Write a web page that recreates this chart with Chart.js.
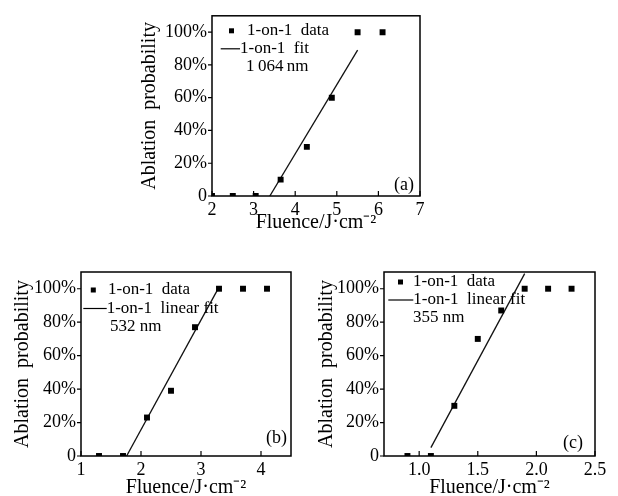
<!DOCTYPE html>
<html lang="en">
<head>
<meta charset="UTF-8">
<title>Ablation probability</title>
<script src="https://cdn.jsdelivr.net/npm/chart.js@4.4.1/dist/chart.umd.min.js"></script>
<style>
  html, body { margin: 0; padding: 0; background: #fff; overflow: hidden; }
  body { width: 618px; height: 496px; position: relative; }
  canvas { position: absolute; }
</style>
</head>
<body>
<canvas id="chartA" width="300" height="245" style="left:130px;top:0px"></canvas>
<canvas id="chartB" width="305" height="250" style="left:0px;top:255px"></canvas>
<canvas id="chartC" width="313" height="250" style="left:305px;top:255px"></canvas>
<script>
// (a) 1064 nm
const fluenceA = [2.0, 2.5, 3.05, 3.65, 4.28, 4.88, 5.5, 6.1]
const probA = [0, 0, 0, 10, 30, 60, 100, 100]
const fitXA = [3.39, 5.5]
const fitYA = [0, 89]
const xTicksA = [2, 3, 4, 5, 6, 7]

// (b) 532 nm
const fluenceB = [1.3, 1.7, 2.1, 2.5, 2.9, 3.3, 3.7, 4.1]
const probB = [0, 0, 23, 39, 77, 100, 100, 100]
const fitXB = [1.76, 3.27]
const fitYB = [0, 99]
const xTicksB = [1, 2, 3, 4]

// (c) 355 nm
const fluenceC = [0.9, 1.1, 1.3, 1.5, 1.7, 1.9, 2.1, 2.3]
const probC = [0, 0, 30, 70, 87, 100, 100, 100]
const fitXC = [1.1, 1.9]
const fitYC = [5, 109]
const xTicksC = [1.0, 1.5, 2.0, 2.5]

const yTicks = [0, 20, 40, 60, 80, 100]

Chart.defaults.font.family = "'Liberation Serif', serif"
Chart.defaults.color = '#000'

// box round the plot, inward x ticks, outward y ticks, legend text and panel letter
const framePlugin = {
    id: 'frame',
    afterDraw(chart, args, o) {
        const { ctx, chartArea: a, scales: { x, y } } = chart
        ctx.save()
        ctx.strokeStyle = '#000'
        ctx.lineWidth = 1.5
        ctx.strokeRect(a.left, a.top, a.width, a.height)
        ctx.lineWidth = 1.2
        ctx.beginPath()
        x.ticks.forEach(t => {
            const px = x.getPixelForValue(t.value)
            ctx.moveTo(px, a.bottom); ctx.lineTo(px, a.bottom - 5)
        })
        y.ticks.forEach(t => {
            const py = y.getPixelForValue(t.value)
            ctx.moveTo(a.left - 4, py); ctx.lineTo(a.left, py)
        })
        ctx.stroke()

        // legend
        const L = o.legend
        ctx.fillStyle = '#000'
        ctx.fillRect(a.left + L.mx - 2.5, a.top + L.rows[0] - 2.5, 5, 5)
        ctx.beginPath()
        ctx.lineWidth = 1.2
        ctx.moveTo(a.left + L.lx1, a.top + L.rows[1])
        ctx.lineTo(a.left + L.lx2, a.top + L.rows[1])
        ctx.stroke()
        ctx.font = "17px 'Liberation Serif'"
        ctx.textBaseline = 'middle'
        ctx.textAlign = 'left'
        L.texts.forEach((txt, i) => {
            ctx.fillText(txt, a.left + L.tx[i], a.top + L.rows[i])
        })

        // panel letter
        ctx.font = "18px 'Liberation Serif'"
        ctx.textAlign = 'right'
        ctx.fillText(o.panel.text, a.right - o.panel.dx, a.bottom - o.panel.dy)
        ctx.restore()
    }
}

function makeChart(id, d) {
    const ctx = document.getElementById(id).getContext('2d')
    return new Chart(ctx, {
        type: 'scatter',
        data: {
            datasets: [{
                data: d.xs.map((v, i) => ({ x: v, y: d.ys[i] })),
                pointStyle: 'rect',
                pointRadius: 4.2,
                backgroundColor: '#000',
                borderColor: '#000',
                borderWidth: 0,
                clip: 0
            }, {
                data: d.fitX.map((v, i) => ({ x: v, y: d.fitY[i] })),
                showLine: true,
                pointRadius: 0,
                borderColor: '#111',
                borderWidth: 1.3,
                clip: 0
            }]
        },
        options: {
            responsive: false,
            animation: false,
            layout: { padding: { top: d.padTop, right: d.padRight, left: 0, bottom: 0 } },
            plugins: {
                legend: { display: false },
                tooltip: { enabled: false },
                frame: { legend: d.legend, panel: d.panel }
            },
            scales: {
                x: {
                    type: 'linear',
                    min: d.xMin,
                    max: d.xMax,
                    afterBuildTicks: s => { s.ticks = d.xTicks.map(v => ({ value: v })) },
                    afterFit: s => { s.height = d.xHeight },
                    grid: { display: false, drawTicks: false },
                    border: { display: false },
                    ticks: {
                        padding: 3,
                        font: { size: 18 },
                        callback: v => d.xFmt ? v.toFixed(1) : String(v)
                    },
                    title: {
                        display: true,
                        text: 'Fluence/J·cm⁻²',
                        font: { size: 20 },
                        padding: { top: 0, bottom: d.xTitlePad }
                    }
                },
                y: {
                    type: 'linear',
                    min: 0,
                    max: 110,
                    afterBuildTicks: s => { s.ticks = yTicks.map(v => ({ value: v })) },
                    afterFit: s => { s.width = d.yWidth },
                    grid: { display: false, drawTicks: false },
                    border: { display: false },
                    ticks: {
                        padding: 5,
                        font: { size: 18 },
                        callback: v => v === 0 ? '0' : v + '%'
                    },
                    title: {
                        display: true,
                        text: 'Ablation  probability',
                        font: { size: 20 },
                        padding: { top: d.yTitlePad, bottom: 0 }
                    }
                }
            }
        },
        plugins: [framePlugin]
    })
}

makeChart('chartA', {
    xs: fluenceA, ys: probA, fitX: fitXA, fitY: fitYA, xTicks: xTicksA,
    xMin: 2, xMax: 7, padTop: 12, padRight: 10, yWidth: 82, xHeight: 49,
    xTitlePad: 10, yTitlePad: 8,
    legend: { mx: 19.5, lx1: 8.7, lx2: 28, rows: [15, 33, 51], tx: [35, 28, 34],
        texts: ['1-on-1  data', '1-on-1  fit', '1\u2009064\u2009nm'] },
    panel: { text: '(a)', dx: 6, dy: 11 }
})

makeChart('chartB', {
    xs: fluenceB, ys: probB, fitX: fitXB, fitY: fitYB, xTicks: xTicksB,
    xMin: 1, xMax: 4.5, padTop: 17, padRight: 14, yWidth: 81, xHeight: 49,
    xTitlePad: 5, yTitlePad: 11,
    legend: { mx: 12.3, lx1: 2.3, lx2: 25.7, rows: [18, 36.5, 55], tx: [27, 25.7, 29],
        texts: ['1-on-1  data', '1-on-1  linear fit', '532 nm'] },
    panel: { text: '(b)', dx: 4, dy: 18 }
})

makeChart('chartC', {
    xs: fluenceC, ys: probC, fitX: fitXC, fitY: fitYC, xTicks: xTicksC, xFmt: true,
    xMin: 0.7, xMax: 2.5, padTop: 17, padRight: 23, yWidth: 79, xHeight: 49,
    xTitlePad: 5, yTitlePad: 10,
    legend: { mx: 16.5, lx1: 4.3, lx2: 29.3, rows: [10, 28, 46], tx: [29, 29.3, 29],
        texts: ['1-on-1  data', '1-on-1  linear fit', '355 nm'] },
    panel: { text: '(c)', dx: 12, dy: 13 }
})
</script>
</body>
</html>
